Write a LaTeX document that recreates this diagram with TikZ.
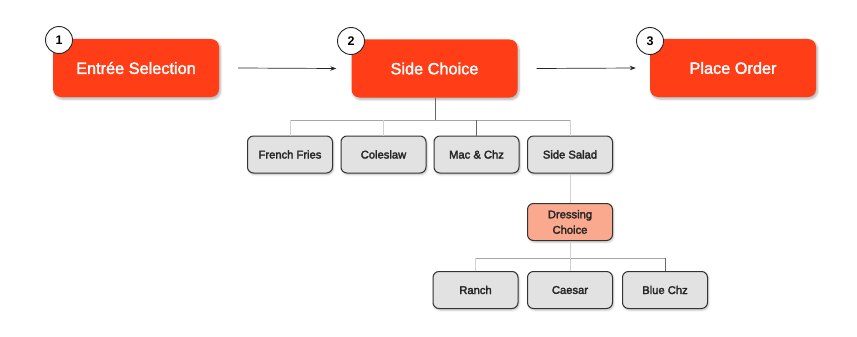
\documentclass[tikz,border=0pt]{standalone}
\usepackage{fontspec}
\setmainfont{Liberation Sans}
\newfontfamily\medfont{Liberation Sans}[FakeBold=1.8]
\newfontfamily\childfont{Liberation Sans}[FakeBold=2.6]
\usetikzlibrary{shadows.blur,arrows.meta}
\definecolor{mainred}{HTML}{FF3D17}
\definecolor{childfill}{HTML}{E2E2E2}
\definecolor{dressfill}{HTML}{FBA98E}
\definecolor{boxline}{HTML}{333333}
\tikzset{
  mainbox/.style={rectangle, rounded corners=8pt, fill=mainred, text=white,
    minimum width=166pt, minimum height=58pt, inner sep=0pt,
    font=\medfont\fontsize{16.3}{19}\selectfont,
    blur shadow={shadow xshift=1.5pt, shadow yshift=-2pt, shadow blur steps=6, shadow opacity=30}},
  childbox/.style={rectangle, rounded corners=6pt, fill=childfill, draw=boxline, line width=1pt,
    minimum width=85pt, minimum height=37pt, inner sep=0pt,
    font=\childfont\fontsize{11.2}{13}\selectfont, text=black!85,
    blur shadow={shadow xshift=1pt, shadow yshift=-1.5pt, shadow blur steps=5, shadow opacity=25}},
  dressbox/.style={childbox, fill=dressfill, align=center, font=\childfont\fontsize{11.2}{15.5}\selectfont},
  numcirc/.style={circle, draw=black!85, line width=0.9pt, fill=white, minimum size=27pt, inner sep=0pt,
    font=\bfseries\fontsize{12.5}{14}\selectfont},
  flowarrow/.style={draw=black!85, line width=0.7pt, -{Stealth[length=6pt,width=4.5pt]}},
  trunk/.style={draw=black!60, line width=0.9pt},
  branch/.style={draw=black!35, line width=0.7pt},
  twig/.style={draw=black!18, line width=0.7pt},
}
\begin{document}
\begin{tikzpicture}[x=1pt,y=-1pt]
\useasboundingbox (0,0) rectangle (857,337);
% main flow
\node[mainbox] (entree) at (136,68) {Entrée Selection};
\node[mainbox] (side) at (434.5,68.5) {Side Choice};
\node[mainbox] (place) at (733,68) {Place Order};
\node[numcirc] (n1) at (59,40) {1};
\node[numcirc] (n2) at (351,41) {2};
\node[numcirc] (n3) at (650,41) {3};
\draw[flowarrow] ([xshift=19pt]entree.east) -- ([xshift=-15pt]side.west);
\draw[flowarrow] ([xshift=19pt]side.east) -- ([xshift=-14pt]place.west);
% sides
\node[childbox] (ff) at (290,154.5) {French Fries};
\node[childbox] (cs) at (383.5,154.5) {Coleslaw};
\node[childbox] (mc) at (476.5,154.5) {Mac \& Chz};
\node[childbox] (ss) at (570,154.5) {Side Salad};
\coordinate (j1) at (435,120);
\draw[branch] (ff.north |- j1) -- (ss.north |- j1);
\draw[twig] (ff.north) -- (ff.north |- j1);
\draw[twig] (cs.north) -- (cs.north |- j1);
\draw[twig] (ss.north) -- (ss.north |- j1);
\draw[trunk] (mc.north) -- (mc.north |- j1);
\draw[trunk] (side.south -| j1) -- (j1);
% dressing
\node[dressbox] (dc) at (570,222) {Dressing\\Choice};
\draw[twig] (ss.south) -- (dc.north);
\node[childbox] (ra) at (475.5,290) {Ranch};
\node[childbox] (ca) at (570,290) {Caesar};
\node[childbox] (bc) at (665,290) {Blue Chz};
\coordinate (j2) at (570,258);
\draw[branch] (ra.north |- j2) -- (bc.north |- j2);
\draw[twig] (ra.north) -- (ra.north |- j2);
\draw[twig] (dc.south) -- (ca.north);
\draw[trunk] (bc.north) -- (bc.north |- j2);
\end{tikzpicture}
\end{document}
